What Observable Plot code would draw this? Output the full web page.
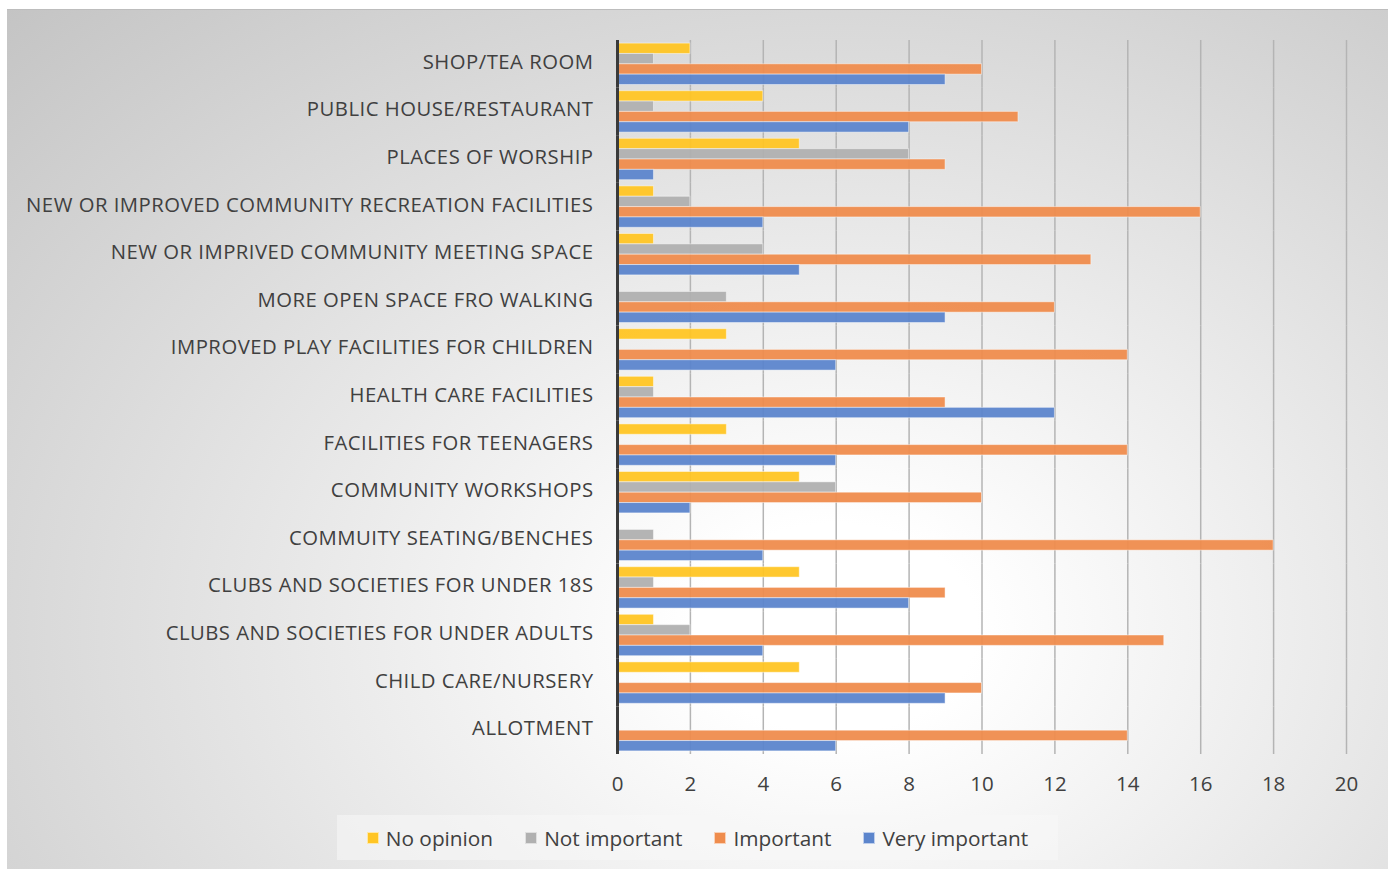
<!DOCTYPE html>
<html>
<head>
<meta charset="utf-8">
<script src="https://cdn.jsdelivr.net/npm/d3@7"></script>
<script src="https://cdn.jsdelivr.net/npm/@observablehq/plot@0.6"></script>
<style>
  html, body { margin: 0; padding: 0; background: #ffffff; }
  #chart {
    position: absolute; left: 7px; top: 9px; width: 1381px; height: 860px;
    background: radial-gradient(ellipse farthest-corner at 60% 72%, #ffffff 0%, #ffffff 12%, #c4c4c4 100%);
    border-top: 1px solid #bdbdbd;
    box-sizing: border-box;
    font-family: "Open Sans", sans-serif;
    color: #404040;
  }
  #plot { position: absolute; left: 0; top: -1px; }
  #plot g[aria-label="fy-axis tick label"] text { letter-spacing: 0.5px; }
  #legend {
    position: absolute; left: 330px; top: 805px; width: 721px; height: 45px;
    background: rgba(248,248,248,0.55);
    display: flex; align-items: center; justify-content: center;
    font-size: 20.8px; color: #404040;
  }
  .item { display: flex; align-items: center; margin: 0 16px; }
  .sw { width: 12px; height: 12px; margin-right: 7px; box-sizing: border-box; border: 1px solid rgba(255,255,255,0.6); }
</style>
</head>
<body>
<div id="chart"><div id="plot"></div><div id="legend"></div></div>
<script>
const categories = [
  "SHOP/TEA ROOM",
  "PUBLIC HOUSE/RESTAURANT",
  "PLACES OF WORSHIP",
  "NEW OR IMPROVED COMMUNITY RECREATION FACILITIES",
  "NEW OR IMPRIVED COMMUNITY MEETING SPACE",
  "MORE OPEN SPACE FRO WALKING",
  "IMPROVED PLAY FACILITIES FOR CHILDREN",
  "HEALTH CARE FACILITIES",
  "FACILITIES FOR TEENAGERS",
  "COMMUNITY WORKSHOPS",
  "COMMUITY SEATING/BENCHES",
  "CLUBS AND SOCIETIES FOR UNDER 18S",
  "CLUBS AND SOCIETIES FOR UNDER ADULTS",
  "CHILD CARE/NURSERY",
  "ALLOTMENT"
];
const series = ["No opinion", "Not important", "Important", "Very important"];
const noOpinion     = [2, 4, 5, 1, 1, 0, 3, 1, 3, 5, 0, 5, 1, 5, 0];
const notImportant  = [1, 1, 8, 2, 4, 3, 0, 1, 0, 6, 1, 1, 2, 0, 0];
const important     = [10, 11, 9, 16, 13, 12, 14, 9, 14, 10, 18, 9, 15, 10, 14];
const veryImportant = [9, 8, 1, 4, 5, 9, 6, 12, 6, 2, 4, 8, 4, 9, 6];
const xTicks = [0, 2, 4, 6, 8, 10, 12, 14, 16, 18, 20];
const colors = ["#ffc524", "#b0b0b0", "#ef8c4d", "#5c85cc"];

const seriesValues = [noOpinion, notImportant, important, veryImportant];
const data = categories.flatMap((c, i) =>
  series.map((s, j) => ({category: c, series: s, value: seriesValues[j][i]}))
).filter(d => d.value > 0);

const chart = Plot.plot({
  width: 1381,
  height: 800,
  marginLeft: 610,
  marginRight: 42,
  marginTop: 31,
  marginBottom: 55,
  style: {background: "transparent", fontFamily: "Open Sans, sans-serif", color: "#404040"},
  x: {domain: [0, 20], ticks: xTicks, label: null},
  fy: {domain: categories, padding: 0, round: false, label: null},
  y: {domain: series, paddingInner: 0, paddingOuter: 0.3, round: false, axis: null},
  color: {domain: series, range: colors},
  marks: [
    Plot.ruleX(xTicks.filter(t => t > 0), {stroke: "#b4b4b4", strokeWidth: 1.5}),
    Plot.barX(data, {x: "value", y: "series", fy: "category", fill: "series",
      stroke: "#ffffff", strokeOpacity: 0.45, strokeWidth: 1, fillOpacity: 0.95}),
    Plot.ruleX([0], {stroke: "#3a3a3a", strokeWidth: 3}),
    Plot.axisX({ticks: xTicks, tickSize: 0, tickPadding: 22, fontSize: 20.5, label: null}),
    Plot.axisFy({anchor: "left", tickSize: 0, tickPadding: 24, fontSize: 20.3, label: null, dy: -2})
  ]
});
document.getElementById("plot").appendChild(chart);

const legend = document.getElementById("legend");
series.forEach((s, i) => {
  const it = document.createElement("div");
  it.className = "item";
  const sw = document.createElement("span");
  sw.className = "sw";
  sw.style.background = colors[i];
  const tx = document.createElement("span");
  tx.textContent = s;
  it.appendChild(sw); it.appendChild(tx);
  legend.appendChild(it);
});
</script>
</body>
</html>
